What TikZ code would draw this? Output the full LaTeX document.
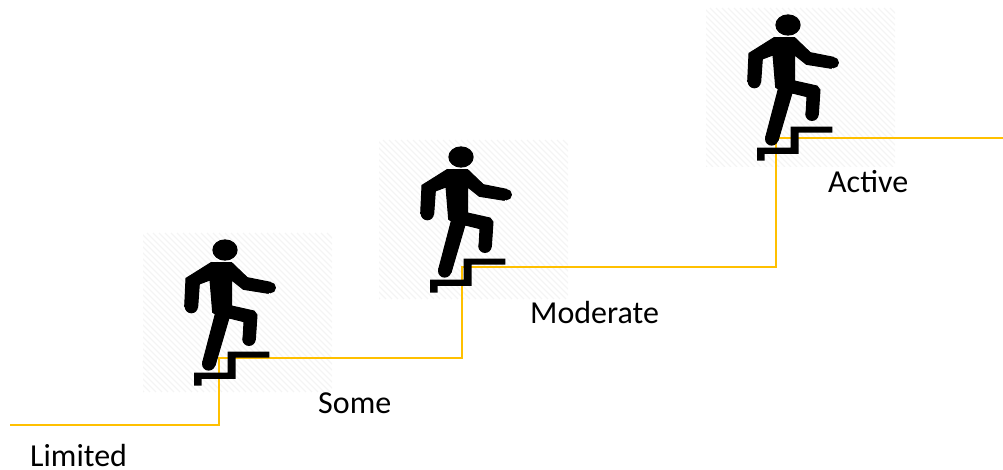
\documentclass[tikz,border=0pt]{standalone}
\usepackage{fontspec}
\setmainfont{Carlito}
\definecolor{stepline}{HTML}{FFC000}
\definecolor{hatchgrey}{HTML}{F4F4F4}
\tikzset{
  figfill/.style={fill=black,draw=black,line width=1pt,line join=round},
  stairs/.style={fill=black},
  route/.style={draw=stepline,line width=2.2pt,line join=miter},
  hatchline/.style={draw=hatchgrey,line width=1.3pt},
  label/.style={anchor=base west,inner sep=0pt,font=\fontsize{32}{38}\selectfont,text=black}
}
\newcommand{\panelhatch}{%
  \begin{scope}
    \clip (143,233) rectangle (332,392);
    \foreach \k in {-170,-164,...,190}{
      \draw[hatchline] (143+\k,233) -- (143+\k+159,392);
    }
  \end{scope}}
\newcommand{\climberfig}{%
  \begin{scope}[shift={(130,225)},x=0.33333pt,y=-0.33333pt]
    \fill[black] (285,75) ellipse [x radius=38,y radius=32];
    \path[figfill] (243,113) -- (305,113) -- (352,158) -- (422,172)
      -- (415,205) -- (340,193) -- (305,165) -- (305,243) -- (372,258)
      -- (381,270) -- (376,345) -- (339,345) -- (342,290) -- (297,279)
      -- (255,422) -- (218,412) -- (256,267) -- (248,262) -- (240,165)
      -- (208,177) -- (203,247) -- (164,245) -- (168,160) -- cycle;
    \fill[black] (421,188) circle (17);
    \fill[black] (357,343) circle (20);
    \fill[black] (236,417) circle (20);
    \fill[black] (184,245) circle (20);
    \path[stairs] (418,380) -- (293,380) -- (293,443) -- (192,443) -- (192,482)
      -- (215,482) -- (215,462) -- (317,462) -- (317,398) -- (418,398) -- cycle;
  \end{scope}}
\begin{document}
\begin{tikzpicture}[x=1pt,y=-1pt]
  \useasboundingbox (0,0) rectangle (1003,470);
  \panelhatch
  \begin{scope}[shift={(236,-93)}]\panelhatch\end{scope}
  \begin{scope}[shift={(563,-225)}]\panelhatch\end{scope}
  \path[route] (10,425) -- (219,425) -- (219,358) -- (462,358) -- (462,267) -- (776,267) -- (776,138) -- (1003,138);
  \climberfig
  \begin{scope}[shift={(236,-93)}]\climberfig\end{scope}
  \begin{scope}[shift={(563,-225)}]\climberfig\end{scope}
  \node[label] (limited) at (30,466) {Limited};
  \node[label] (some) at (318,413) {Some};
  \node[label] (moderate) at (530,323) {Moderate};
  \node[label] (active) at (828,193) {Active};
\end{tikzpicture}
\end{document}
